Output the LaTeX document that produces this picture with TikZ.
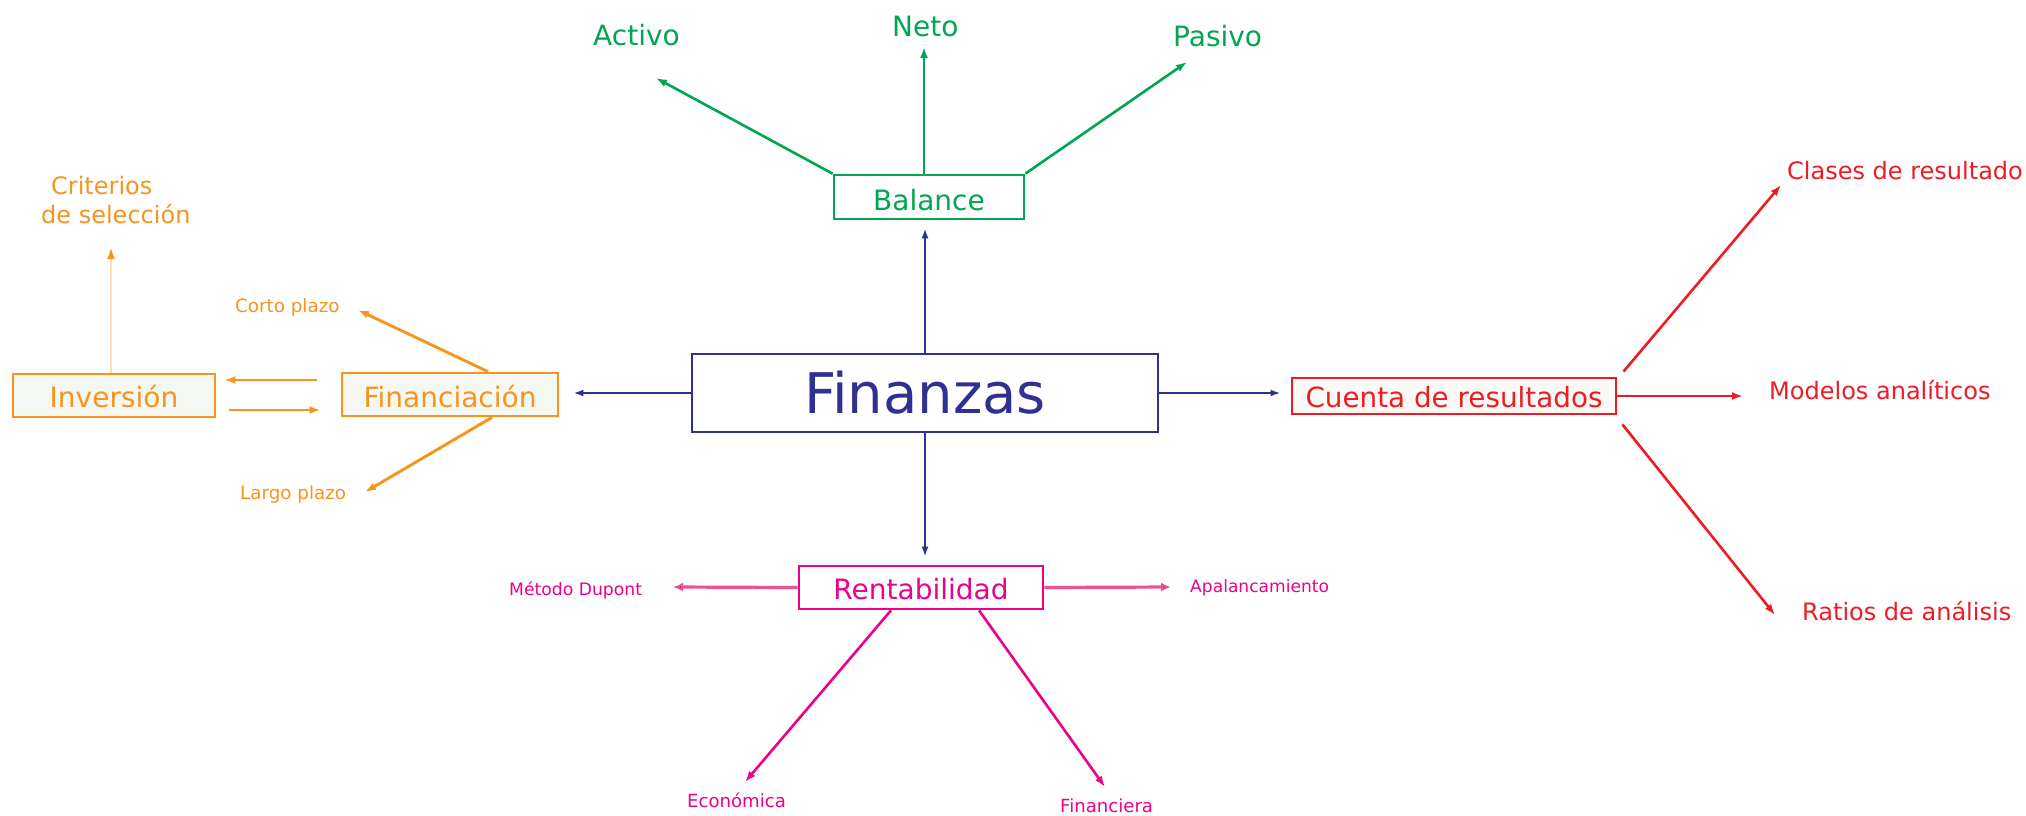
\documentclass[tikz,border=0pt]{standalone}
\usepackage{fontspec}
\setmainfont{DejaVu Sans}
\usetikzlibrary{arrows.meta}
\definecolor{cblue}{HTML}{2E3192}
\definecolor{cgreen}{HTML}{00A651}
\definecolor{corange}{HTML}{F7941D}
\definecolor{corangeL}{HTML}{FDDCB8}
\definecolor{cred}{HTML}{ED1C24}
\definecolor{cmag}{HTML}{EC008C}
\definecolor{cpink}{HTML}{EF4F97}
\definecolor{cfill}{HTML}{F5F7F3}
\definecolor{cfillB}{HTML}{F9F9F6}
\begin{document}
\begin{tikzpicture}[x=1pt,y=-1pt,
  lbl/.style={inner sep=0pt, anchor=base west},
  bigf/.style={font=\fontsize{28}{30}\selectfont},
  midf/.style={font=\fontsize{24}{26}\selectfont},
  boxnode/.style={draw, line width=2.7pt, inner xsep=0pt, inner ysep=0pt, anchor=base},
  tip/.style={-{Latex[length=11pt,width=8pt]}},
  conn/.style={line width=2.6pt, tip},
]
\fill[white] (0,0) rectangle (2026,815);
\useasboundingbox (0,0) rectangle (2026,815);

% ---- boxes ----
\node[boxnode, draw=cblue, line width=2.5pt, text=cblue, minimum width=466pt, text height=59pt, text depth=19pt,
      font=\fontsize{56}{60}\selectfont] (fin) at (925,413) {Finanzas};
\node[boxnode, draw=cgreen, text=cgreen, minimum width=190pt, text height=35pt, text depth=9pt, bigf] (bal) at (929,210) {Balance};
\node[boxnode, draw=corange, fill=cfill, text=corange, minimum width=202pt, text height=33pt, text depth=10pt, bigf] (inv) at (114,407) {Inversión};
\node[boxnode, draw=corange, fill=cfill, text=corange, minimum width=216pt, text height=34pt, text depth=9pt, bigf] (fnc) at (450,407) {Financiación};
\node[boxnode, draw=cred, line width=2.9pt, fill=cfillB, text=cred, minimum width=324pt, text height=29pt, text depth=7pt, font=\fontsize{27.8}{30}\selectfont] (cta) at (1454,407) {Cuenta de resultados};
\node[boxnode, draw=cmag, text=cmag, minimum width=244pt, text height=33pt, text depth=10pt, bigf] (ren) at (921,599) {Rentabilidad};

% ---- labels ----
\node[lbl, bigf, text=cgreen] (act) at (593,45.5) {Activo};
\node[lbl, bigf, text=cgreen] (net) at (892,36) {Neto};
\node[lbl, bigf, text=cgreen] (pas) at (1173,46) {Pasivo};
\node[lbl, midf, text=corange] (cri1) at (51,194) {Criterios};
\node[lbl, midf, text=corange] (cri2) at (41,223) {de selección};
\node[lbl, text=corange, font=\fontsize{18.3}{20}\selectfont] (cor) at (235,312) {Corto plazo};
\node[lbl, text=corange, font=\fontsize{18.3}{20}\selectfont] (lar) at (240,499) {Largo plazo};
\node[lbl, midf, text=cred] (cla) at (1787,179) {Clases de resultado};
\node[lbl, midf, text=cred] (mod) at (1769,399) {Modelos analíticos};
\node[lbl, midf, text=cred] (rat) at (1802,620) {Ratios de análisis};
\node[lbl, text=cmag, font=\fontsize{17.2}{20}\selectfont] (dup) at (509,595) {Método Dupont};
\node[lbl, text=cmag, font=\fontsize{17.1}{20}\selectfont] (apa) at (1190,592) {Apalancamiento};
\node[lbl, text=cmag, font=\fontsize{18.1}{20}\selectfont] (eco) at (687,807) {Económica};
\node[lbl, text=cmag, font=\fontsize{18.1}{20}\selectfont] (fcr) at (1060,812) {Financiera};

% ---- arrow tips (free ends) and levels ----
\coordinate (tAct) at (656,78);
\coordinate (tNet) at (924,47);
\coordinate (tPas) at (1187,62);
\coordinate (tCri) at (111,248);
\coordinate (tCor) at (358,310);
\coordinate (tLar) at (365,492);
\coordinate (tCla) at (1781,185);
\coordinate (tMod) at (1743,395);
\coordinate (tRat) at (1775,615);
\coordinate (tDup) at (673,587);
\coordinate (tApa) at (1171,587);
\coordinate (tEco) at (745,782);
\coordinate (tFcr) at (1105,787);
\coordinate (yTop) at (0,380);
\coordinate (yBot) at (0,410);

% ---- blue connectors from Finanzas ----
\begin{scope}[cblue, line width=2.5pt, -{Latex[length=10pt,width=7pt]}]
\draw[shorten >=8pt] (fin.north) -- (fin.north |- bal.south);
\draw[shorten >=8pt] (fin.south) -- (fin.south |- ren.north);
\draw[shorten >=14pt] (fin.west) -- (fin.west -| fnc.east);
\draw[shorten >=10pt] (fin.east) -- (fin.east -| cta.west);
\end{scope}

% ---- green ----
\begin{scope}[cgreen, conn]
\draw (bal.north west) -- (tAct);
\draw (tNet |- bal.north) -- (tNet);
\draw (bal.north east) -- (tPas);
\end{scope}

% ---- orange ----
\begin{scope}[corange, conn, line width=2.9pt]
\draw[shorten <=24pt, shorten >=8pt] (fnc.west |- yTop) -- (inv.east |- yTop);
\draw[shorten <=13pt, shorten >=20pt] (inv.east |- yBot) -- (fnc.west |- yBot);
\draw ([xshift=38pt]fnc.north) -- (tCor);
\draw ([xshift=42pt]fnc.south) -- (tLar);
\end{scope}
\draw[corangeL, line width=1.2pt, -{Latex[length=11pt,width=8pt,color=corange]}] (tCri |- inv.north) -- (tCri);

% ---- red ----
\begin{scope}[cred, conn]
\draw ([xshift=6pt,yshift=5pt]cta.north east) -- (tCla);
\draw (cta.east) -- (cta.east -| tMod);
\draw ([xshift=5pt,yshift=-9pt]cta.south east) -- (tRat);
\end{scope}

% ---- magenta ----
\begin{scope}[cpink, line width=3.2pt, -{Latex[length=10pt,width=9pt,fill=cblue]}]
\draw (ren.west) -- (tDup);
\draw (ren.east) -- (tApa);
\end{scope}
\begin{scope}[cmag, conn]
\draw ([xshift=-30pt]ren.south) -- (tEco);
\draw ([xshift=58pt]ren.south) -- (tFcr);
\end{scope}
\end{tikzpicture}
\end{document}
